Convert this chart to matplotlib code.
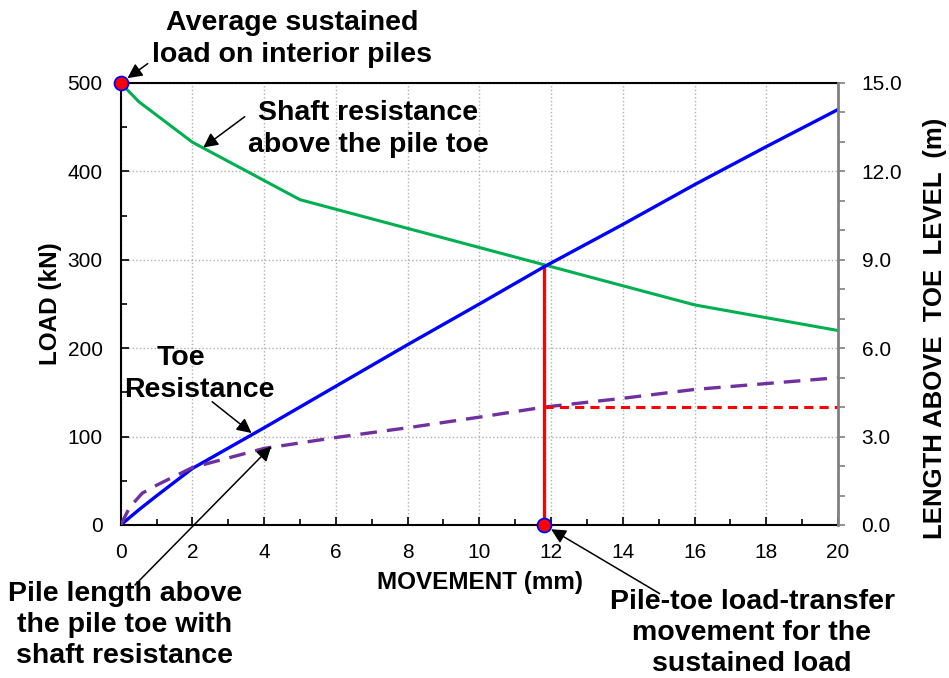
import matplotlib.pyplot as plt
from matplotlib.ticker import MultipleLocator

plt.rcParams['font.family'] = ['Liberation Sans', 'DejaVu Sans']

# blue: toe resistance (kN)
toe_mm = [0, 0.5, 1, 2, 4, 6, 8, 10, 11.8, 14, 16, 18, 20]
toe_kn = [0, 17, 33, 64, 110, 157, 204, 250, 292, 340, 385, 428, 470]

# green: shaft resistance above pile toe (kN)
shaft_mm = [0, 0.5, 2, 5, 16, 20]
shaft_kn = [500, 479, 433, 368, 249, 220]

# purple dashed: pile length above toe with shaft resistance (m)
len_mm = [0, 0.25, 0.6, 1, 2, 4, 6, 8, 10, 11.8, 14, 16, 18, 20]
len_m = [0, 0.6, 1.08, 1.35, 1.95, 2.6, 2.97, 3.3, 3.66, 4.0, 4.3, 4.6, 4.8, 5.0]

x_cross = 11.8
load_cross = 292
len_cross = 4.0
sustained = 500

fig = plt.figure(figsize=(9.49, 6.78), dpi=100)
ax = fig.add_axes([120.7 / 949, 1 - 525 / 678, (838 - 120.7) / 949, (525 - 83) / 678])
ax2 = ax.twinx()

ax.plot(shaft_mm, shaft_kn, color='#00B050', lw=2.2, zorder=3)
ax.plot(toe_mm, toe_kn, color='#0000FF', lw=2.4, zorder=4)
ax.plot([x_cross, x_cross], [0, load_cross], color='#FF0000', lw=2.4, zorder=3)
ax2.plot(len_mm, len_m, color='#7030A0', lw=2.4, dashes=(5, 3))
ax2.plot([x_cross, 20], [len_cross, len_cross], color='#FF0000', lw=2.2, dashes=(3, 2))

for xm, ym in [(0, sustained), (x_cross, 0)]:
    ax.plot(xm, ym, 'o', ms=10, mfc='#FF0000', mec='#0000FF', mew=1.3,
            clip_on=False, zorder=6)

ax.set_xlim(0, 20)
ax.set_ylim(0, 500)
ax2.set_ylim(0, 15)
ax.xaxis.set_major_locator(MultipleLocator(2))
ax.xaxis.set_minor_locator(MultipleLocator(1))
ax.yaxis.set_major_locator(MultipleLocator(100))
ax.yaxis.set_minor_locator(MultipleLocator(50))
ax2.yaxis.set_major_locator(MultipleLocator(3))
ax2.yaxis.set_minor_locator(MultipleLocator(1))
ax2.yaxis.set_major_formatter(lambda v, p: f'{v:.1f}')

ax.grid(True, which='major', color='#b0b0b0', ls=':', lw=1)
ax.tick_params(axis='both', which='both', direction='in', labelsize=15, pad=13)
ax.tick_params(which='major', length=6, width=1.2)
ax.tick_params(which='minor', length=4, width=1.2)
ax2.tick_params(axis='y', which='both', direction='out', labelsize=15, pad=12,
                color='#808080', width=1.2)
ax2.tick_params(which='major', length=5)
ax2.tick_params(which='minor', length=5)
for s in ['left', 'bottom', 'top']:
    ax.spines[s].set_linewidth(1.5)
for s in ['left', 'bottom', 'top']:
    ax2.spines[s].set_visible(False)
ax.spines['right'].set_visible(False)
ax2.spines['right'].set_color('#808080')
ax2.spines['right'].set_linewidth(2)

fig.text(51 / 949, 1 - 304 / 678, 'LOAD (kN)', rotation=90, ha='center',
         va='center', fontsize=17.5, fontweight='bold')
fig.text(935 / 949, 1 - 328 / 678, 'LENGTH ABOVE  TOE  LEVEL  (m)', rotation=90,
         ha='center', va='center', fontsize=18.5, fontweight='bold')
fig.text(480 / 949, 1 - 582 / 678, 'MOVEMENT (mm)', ha='center', va='center',
         fontsize=17.5, fontweight='bold')

big = dict(fontsize=20.5, fontweight='bold', ha='center', va='center',
           linespacing=1.25)
fig.text(292 / 949, 1 - 39 / 678, 'Average sustained\nload on interior piles', **big)
fig.text(368 / 949, 1 - 129 / 678, 'Shaft resistance\nabove the pile toe', **big)
fig.text(181 / 949, 1 - 358 / 678, 'Toe', **big)
fig.text(199 / 949, 1 - 390 / 678, 'Resistance', **big)
fig.text(125 / 949, 1 - 625 / 678, 'Pile length above\nthe pile toe with\nshaft resistance', **big)
fig.text(752 / 949, 1 - 633 / 678, 'Pile-toe load-transfer\nmovement for the\nsustained load', **big)

arrow = dict(arrowstyle='-|>', color='black', lw=1.1, mutation_scale=22)
ax.annotate('', xy=(0, sustained), xytext=(150 / 949, 1 - 62 / 678),
            textcoords='figure fraction', arrowprops=dict(arrow, shrinkB=6),
            annotation_clip=False)
ax.annotate('', xy=(2.3, 427), xytext=(247 / 949, 1 - 115 / 678),
            textcoords='figure fraction', arrowprops=dict(arrow, shrinkB=0))
ax.annotate('', xy=(3.65, 104), xytext=(210 / 949, 1 - 400 / 678),
            textcoords='figure fraction', arrowprops=dict(arrow, shrinkB=0))
ax2.annotate('', xy=(4.2, 2.67), xytext=(133 / 949, 1 - 587 / 678),
             textcoords='figure fraction', arrowprops=dict(arrow, shrinkB=0),
             annotation_clip=False)
ax.annotate('', xy=(x_cross, 0), xytext=(662 / 949, 1 - 595 / 678),
            textcoords='figure fraction', arrowprops=dict(arrow, shrinkB=6),
            annotation_clip=False)

fig.savefig('out.png', dpi=100)
